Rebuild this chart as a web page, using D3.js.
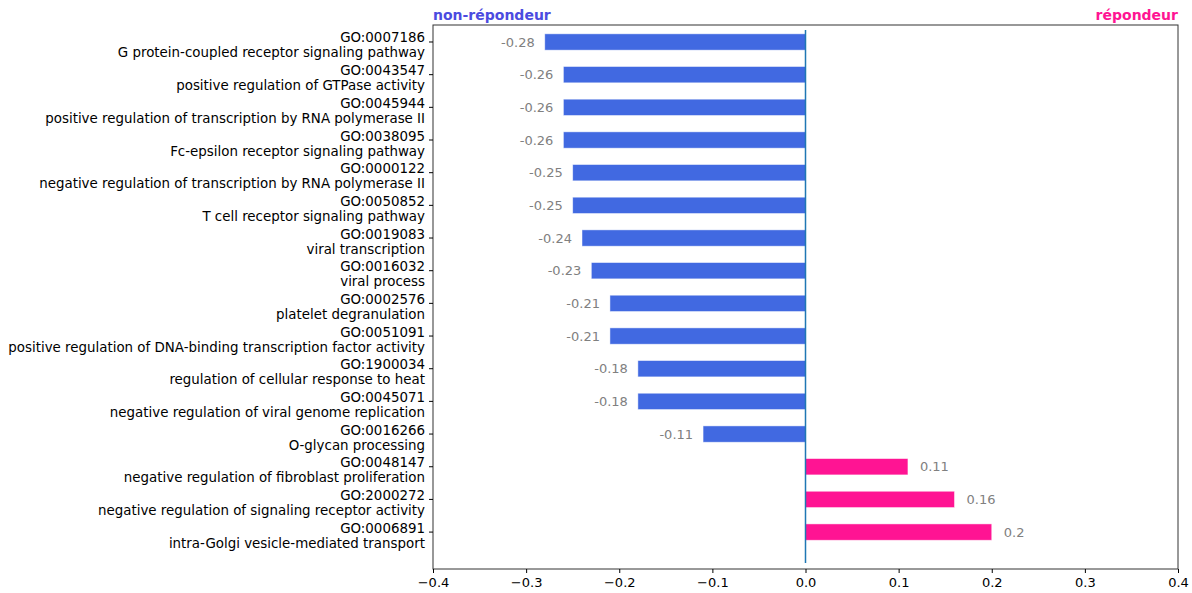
<!DOCTYPE html>
<meta charset="utf-8">
<script src="https://d3js.org/d3.v7.min.js"></script>
<style>
  body { margin: 0; background: #fff; }
  svg text { font-family: "DejaVu Sans", sans-serif; }
</style>
<div id="chart"></div>
<script>
// GO terms, top to bottom
var goIds = ["GO:0007186", "GO:0043547", "GO:0045944", "GO:0038095", "GO:0000122",
  "GO:0050852", "GO:0019083", "GO:0016032", "GO:0002576", "GO:0051091",
  "GO:1900034", "GO:0045071", "GO:0016266", "GO:0048147", "GO:2000272", "GO:0006891"];
var goNames = ["G protein-coupled receptor signaling pathway",
  "positive regulation of GTPase activity",
  "positive regulation of transcription by RNA polymerase II",
  "Fc-epsilon receptor signaling pathway",
  "negative regulation of transcription by RNA polymerase II",
  "T cell receptor signaling pathway",
  "viral transcription",
  "viral process",
  "platelet degranulation",
  "positive regulation of DNA-binding transcription factor activity",
  "regulation of cellular response to heat",
  "negative regulation of viral genome replication",
  "O-glycan processing",
  "negative regulation of fibroblast proliferation",
  "negative regulation of signaling receptor activity",
  "intra-Golgi vesicle-mediated transport"];
var scores = [-0.28, -0.26, -0.26, -0.26, -0.25, -0.25, -0.24, -0.23, -0.21, -0.21,
  -0.18, -0.18, -0.11, 0.11, 0.16, 0.2];
var xTicks = [-0.4, -0.3, -0.2, -0.1, 0.0, 0.1, 0.2, 0.3, 0.4];

var W = 1192, H = 593;
var margin = { top: 25, right: 14, bottom: 24, left: 433 };
var iw = W - margin.left - margin.right,
    ih = H - margin.top - margin.bottom;

var svg = d3.select("#chart").append("svg")
    .attr("width", W).attr("height", H);
var g = svg.append("g")
    .attr("transform", "translate(" + margin.left + "," + margin.top + ")");

var x = d3.scaleLinear().domain([-0.4, 0.4]).range([0, iw]);
// row index -> y (extra room under the last row, as in the original)
var y = d3.scaleLinear().domain([-0.52, 16.13]).range([0, ih]);
var band = y(1) - y(0);
var barH = band * 0.5;

var data = scores.map(function(v, i) { return { id: goIds[i], name: goNames[i], v: v, i: i }; });

// bars
g.selectAll("rect.bar").data(data).enter().append("rect")
  .attr("class", "bar")
  .attr("x", function(d) { return x(Math.min(0, d.v)); })
  .attr("y", function(d) { return y(d.i) - barH / 2; })
  .attr("width", function(d) { return Math.abs(x(d.v) - x(0)); })
  .attr("height", barH)
  .attr("fill", function(d) { return d.v < 0 ? "#4169E1" : "#FF1493"; })
  .attr("stroke", "#ffffff").attr("stroke-opacity", 0.6).attr("stroke-width", 0.8);

// value labels
g.selectAll("text.val").data(data).enter().append("text")
  .attr("class", "val")
  .attr("x", function(d) { return d.v < 0 ? x(d.v) - 10 : x(d.v) + 12; })
  .attr("y", function(d) { return y(d.i); })
  .attr("dy", "0.35em")
  .attr("text-anchor", function(d) { return d.v < 0 ? "end" : "start"; })
  .attr("fill", "#808080")
  .style("font-size", "13px")
  .text(function(d) { return String(d.v); });

// zero line
g.append("line")
  .attr("x1", x(0)).attr("x2", x(0))
  .attr("y1", y(-0.37)).attr("y2", y(15.95))
  .attr("stroke", "#1f77b4").attr("stroke-width", 1.5);

// frame
g.append("rect")
  .attr("x", 0).attr("y", 0).attr("width", iw).attr("height", ih)
  .attr("fill", "none").attr("stroke", "#333").attr("stroke-width", 1);

// x axis
var xAxis = g.append("g")
  .attr("transform", "translate(0," + ih + ")")
  .call(d3.axisBottom(x).tickValues(xTicks).tickSize(4).tickPadding(5)
    .tickFormat(function(d) { return d3.format(".1f")(d).replace("-", "\u2212"); }));
xAxis.select(".domain").remove();
xAxis.selectAll("text").style("font-size", "13px").attr("fill", "#000");
xAxis.selectAll("line").attr("stroke", "#000");

// y ticks and two-line labels
var yl = g.append("g");
yl.selectAll("line").data(data).enter().append("line")
  .attr("x1", -4).attr("x2", 0)
  .attr("y1", function(d) { return y(d.i); })
  .attr("y2", function(d) { return y(d.i); })
  .attr("stroke", "#000");
var lab = yl.selectAll("text").data(data).enter().append("text")
  .attr("text-anchor", "end")
  .attr("fill", "#000")
  .style("font-size", "13.4px");
lab.append("tspan")
  .attr("x", -8)
  .attr("y", function(d) { return y(d.i) + 0.5; })
  .text(function(d) { return d.id; });
lab.append("tspan")
  .attr("x", -8)
  .attr("y", function(d) { return y(d.i) + 15.5; })
  .text(function(d) { return d.name; });

// side titles
svg.append("text")
  .attr("x", margin.left).attr("y", 20)
  .attr("fill", "#4b4be0")
  .style("font-size", "14px").style("font-weight", "bold")
  .text("non-répondeur");
svg.append("text")
  .attr("x", margin.left + iw).attr("y", 20)
  .attr("text-anchor", "end")
  .attr("fill", "#FF1493")
  .style("font-size", "14px").style("font-weight", "bold")
  .text("répondeur");
</script>
